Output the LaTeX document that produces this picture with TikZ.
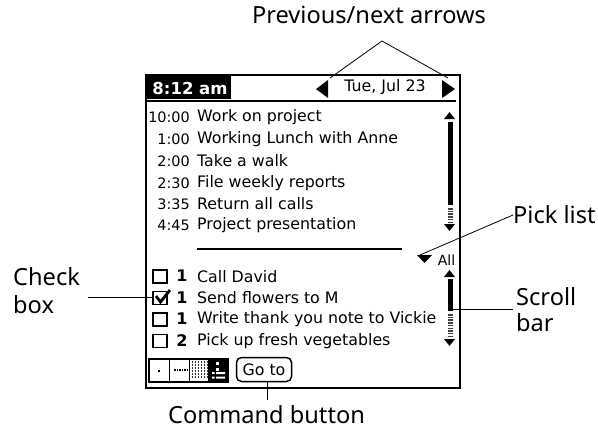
\documentclass[tikz,border=0pt]{standalone}
\usepackage{fontspec}
\setmainfont{Noto Sans}
\newfontfamily\palmfont{DejaVu Sans}
\tikzset{
 lbl/.style={inner sep=0pt,anchor=west,font=\fontsize{23.6}{28}\selectfont,align=left,text=black},
 palm/.style={inner sep=0pt,font=\palmfont\fontsize{15.8}{20}\selectfont,text=black},
 time/.style={palm,anchor=east,font=\palmfont\fontsize{14.4}{20}\selectfont},
 entry/.style={palm,anchor=west},
 prio/.style={palm,anchor=center,font=\palmfont\bfseries\fontsize{16}{20}\selectfont},
 cbox/.style={draw=black,line width=1.5pt,minimum width=14pt,minimum height=13pt,inner sep=0pt,fill=white},
 conn/.style={draw=black,line width=0.8pt},
 frame/.style={draw=black,line width=1.8pt},
 dots/.style={draw=black!75,line width=5pt,dash pattern=on 1.5pt off 1.2pt},
}
\begin{document}
\begin{tikzpicture}[x=1pt,y=-1pt]
\useasboundingbox (0,0) rectangle (598,429);
% screen
\draw[frame] (146,75) -- (460,75) -- (460,388) -- (146,388) -- cycle;
\fill[black] (146,74) rectangle (231,99);
\fill[black] (145,100) rectangle (456,102);
\node[inner sep=0pt,text=white,font=\palmfont\bfseries\fontsize{16.5}{20}\selectfont,anchor=center] (clock) at (190,88) {8:12 am};
% date bar
\node[palm] (date) at (385,87) {Tue, Jul 23};
\fill[black] (316,89) -- (328,80) -- (328,98) -- cycle;
\fill[black] (455,89) -- (442,80) -- (442,98) -- cycle;
\coordinate (prevend) at (330,78);
\coordinate (nextend) at (448,78);
% appointments
\node[time] (t1) at (190,117) {10:00};
\node[entry] (e1) at (197,117) {Work on project};
\node[time] (t2) at (190,139) {1:00};
\node[entry] (e2) at (197,139) {Working Lunch with Anne};
\node[time] (t3) at (190,161) {2:00};
\node[entry] (e3) at (197,161) {Take a walk};
\node[time] (t4) at (190,183) {2:30};
\node[entry] (e4) at (197,183) {File weekly reports};
\node[time] (t5) at (190,204) {3:35};
\node[entry] (e5) at (197,204) {Return all calls};
\node[time] (t6) at (190,225) {4:45};
\node[entry] (e6) at (197,225) {Project presentation};
% upper scroll
\fill[black] (449.5,112) -- (444,119) -- (455,119) -- cycle;
\fill[black] (447.5,122) rectangle (453,205);
\draw[dots] (450.3,208) -- (450.3,222);
\fill[black] (444,224) -- (455,224) -- (449.5,231) -- cycle;
% separator
\fill[black] (197,248) rectangle (402,250);
% pick list
\fill[black] (417,255) -- (432,255) -- (424.5,263) -- cycle;
\node[palm,font=\palmfont\fontsize{14}{18}\selectfont,inner sep=0pt] (all) at (446.5,260) {All};
\coordinate (pickend) at (420,255);
% tasks
\node[cbox] (c1) at (160,276.5) {};
\node[cbox] (c2) at (160,298) {};
\node[cbox] (c3) at (160,319.5) {};
\node[cbox] (c4) at (160,341) {};
\draw[line width=2.8pt] (156,296) -- (160.5,302) -- (170,290);
\node[prio] (p1) at (182,276) {1};
\node[prio] (p2) at (182,298) {1};
\node[prio] (p3) at (182,319) {1};
\node[prio] (p4) at (182,341) {2};
\node[entry] (d1) at (197,277) {Call David};
\node[entry] (d2) at (197,298) {Send flowers to M};
\node[entry] (d3) at (197,319) {Write thank you note to Vickie};
\node[entry] (d4) at (197,341) {Pick up fresh vegetables};
% lower scroll
\fill[black] (449.5,270) -- (444,277) -- (455,277) -- cycle;
\fill[black] (447.5,279) rectangle (453,311);
\draw[dots] (450.3,314) -- (450.3,337);
\fill[black] (444,339) -- (455,339) -- (449.5,346) -- cycle;
\coordinate (scrollend) at (453,309);
\coordinate (scrollout) at (513,309);
% view buttons
\draw[black,line width=1.5pt] (149,359) rectangle (228,382);
\draw[black,line width=1.5pt] (169.5,359) -- (169.5,382) (189.5,359) -- (189.5,382);
\fill[black] (208,358) rectangle (229,383);
\fill[black] (158,369.5) rectangle (160,371.5);
\draw[black,line width=1.2pt,dash pattern=on 1.5pt off 1pt] (174,370) -- (188,370);
\foreach \yy in {362,365,368,371,374,377}{
 \draw[black!80,line width=1.4pt,dash pattern=on 1.5pt off 1.5pt] (191.5,\yy) -- (207,\yy);
}
\fill[white] (216,362) rectangle (219,364.5);
\fill[white] (216,368) rectangle (219,370.5);
\fill[white] (212,372) rectangle (214.5,374) (216,372) rectangle (225,374);
\fill[white] (212,376.5) rectangle (214.5,378.5) (216,376.5) rectangle (225,378.5);
% go to
\node[draw=black,line width=1.5pt,rounded corners=5pt,minimum width=55pt,minimum height=24pt,inner sep=0pt,palm] (goto) at (264,369.5) {Go to};
% labels
\node[lbl,anchor=center] (prev) at (369,15) {Previous/next arrows};
\coordinate (apex) at (382,41);
\node[lbl] (pick) at (513,215) {Pick list};
\node[lbl,font=\fontsize{23.6}{26}\selectfont] (scroll) at (516,310) {Scroll\\bar};
\node[lbl] (check) at (13,291) {Check\\box};
\node[lbl,anchor=center] (cmd) at (266.5,415) {Command button};
\coordinate (checkout) at (88,297);
\coordinate (gotoout) at (267,382);
\coordinate (cmdin) at (267,400);
% connectors
\draw[conn] (prevend) -- (apex) -- (nextend);
\draw[conn] (pick.west) -- (pickend);
\draw[conn,line width=1pt] (scrollend) -- (scrollout);
\draw[conn,line width=1pt] (checkout) -- (c2.west |- checkout);
\draw[conn,line width=1pt] (gotoout) -- (cmdin);
\end{tikzpicture}
\end{document}
